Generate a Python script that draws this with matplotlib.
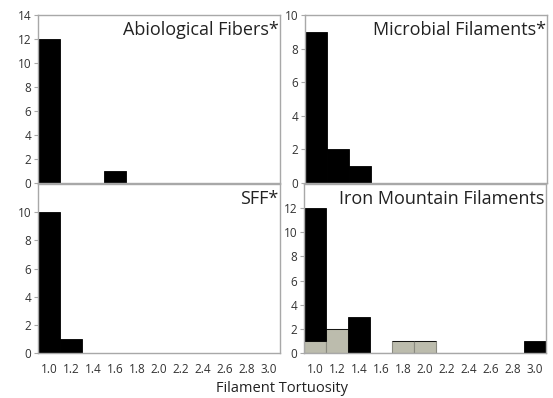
import numpy as np
import matplotlib
matplotlib.use("Agg")
import matplotlib.pyplot as plt

plt.rcParams['font.family'] = ['Open Sans', 'DejaVu Sans']

bins = ["1.0", "1.2", "1.4", "1.6", "1.8", "2.0", "2.2", "2.4", "2.6", "2.8", "3.0"]
abiological = [12, 0, 0, 1, 0, 0, 0, 0, 0, 0, 0]
microbial = [9, 2, 1, 0, 0, 0, 0, 0, 0, 0, 0]
sff = [10, 1, 0, 0, 0, 0, 0, 0, 0, 0, 0]
iron_black = [11, 0, 3, 0, 0, 0, 0, 0, 0, 0, 1]
iron_gray = [1, 2, 0, 0, 1, 1, 0, 0, 0, 0, 0]

W, H = 553, 398
fig = plt.figure(figsize=(W / 100, H / 100), dpi=100)

def box(l, t, r, b):
    return [l / W, 1 - b / H, (r - l) / W, (b - t) / H]

panels = [
    (box(38, 15, 280, 183), "Abiological Fibers*", 14, np.arange(0, 15, 2), False),
    (box(305, 15, 547, 183), "Microbial Filaments*", 10, np.arange(0, 11, 2), False),
    (box(38, 184, 280, 353), "SFF*", 12, np.arange(0, 11, 2), True),
    (box(304, 184, 546, 353), "Iron Mountain Filaments", 14, np.arange(0, 13, 2), True),
]
data = [abiological, microbial, sff, None]

x = np.arange(len(bins))
spine_col = "#a8a8a8"
for (rect, title, ymax, yt, show_x), vals in zip(panels, data):
    ax = fig.add_axes(rect)
    if vals is None:
        ax.bar(x, iron_gray, width=1.0, color="#bcbcad", edgecolor="#8a8a80", linewidth=0.8)
        ax.bar(x, iron_black, width=1.0, bottom=iron_gray, color="black", edgecolor="black", linewidth=0.6)
    else:
        ax.bar(x, vals, width=1.0, color="black", edgecolor="black", linewidth=0.6)
    ax.set_xlim(-0.5, len(bins) - 0.5)
    ax.set_ylim(0, ymax)
    ax.set_yticks(yt)
    ax.tick_params(axis='y', labelsize=8.5, length=3, color=spine_col, pad=2, colors="#333333")
    if show_x:
        ax.set_xticks(x)
        ax.set_xticklabels(bins)
        ax.tick_params(axis='x', labelsize=8.5, length=0, pad=7, colors="#333333")
    else:
        ax.set_xticks([])
    for s in ax.spines.values():
        s.set_color(spine_col)
        s.set_linewidth(1.0)
    ax.text(0.995, 0.965, title, transform=ax.transAxes, ha="right", va="top",
            fontsize=13, color="#222222")

fig.text(282 / W, 1 - 388 / H, "Filament Tortuosity", ha="center", va="center",
         fontsize=10.5, color="#222222")

fig.savefig("out.png", dpi=100)
